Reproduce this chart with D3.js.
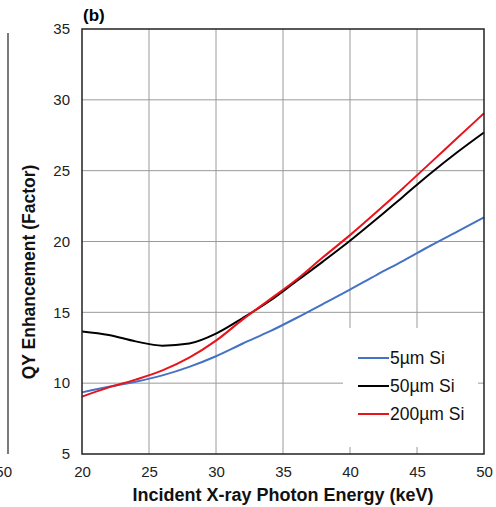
<!DOCTYPE html>
<html>
<head>
<meta charset="utf-8">
<script src="https://cdn.jsdelivr.net/npm/d3@7"></script>
<style>
  body { margin: 0; background: #fff; }
  text { font-family: 'Liberation Sans', Arial, sans-serif; }
</style>
</head>
<body>
<div class="chartContainer"></div>
<script>
var energy = [20, 22, 24, 26, 28, 30, 32, 34, 36, 38, 40, 42, 44, 46, 48, 50];
var si5 = [9.35, 9.75, 10.1, 10.55, 11.15, 11.9, 12.8, 13.65, 14.6, 15.6, 16.6, 17.65, 18.65, 19.7, 20.7, 21.7];
var si50 = [13.65, 13.4, 12.95, 12.65, 12.8, 13.5, 14.6, 15.8, 17.2, 18.6, 20.05, 21.6, 23.2, 24.8, 26.3, 27.7];
var si200 = [9.05, 9.7, 10.25, 10.9, 11.8, 13.0, 14.5, 15.9, 17.3, 18.9, 20.45, 22.1, 23.8, 25.55, 27.3, 29.05];
var seriesNames = ['5\u00b5m Si', '50\u00b5m Si', '200\u00b5m Si'];
var seriesColors = ['#4472c4', '#000000', '#e8131b'];
var xTicks = [20, 25, 30, 35, 40, 45, 50];
var yTicks = [5, 10, 15, 20, 25, 30, 35];

var W = 496;
var H = 507;
var plotL = 82, plotR = 484, plotT = 29, plotB = 454;

var svg = d3.select('.chartContainer').append('svg').attr('width', W).attr('height', H);

var xScale = d3.scaleLinear().domain([20, 50]).range([plotL, plotR]);
var yScale = d3.scaleLinear().domain([5, 35]).range([plotB, plotT]);

// remnant of panel (a) on the left edge
svg.append('line')
  .attr('x1', 8).attr('x2', 8).attr('y1', 33).attr('y2', plotB)
  .attr('stroke', '#222').attr('stroke-width', 1.2);
svg.append('text')
  .attr('x', 12).attr('y', 477)
  .attr('text-anchor', 'end')
  .style('font-size', '15px')
  .attr('fill', '#222')
  .text('50');

/* ===== GRID ===== */
var grid = svg.append('g');
grid.selectAll('line.vgrid')
  .data(xTicks.slice(1, -1))
  .enter()
  .append('line')
  .attr('class', 'vgrid')
  .attr('x1', function (d) { return xScale(d); })
  .attr('x2', function (d) { return xScale(d); })
  .attr('y1', plotT).attr('y2', plotB)
  .attr('stroke', '#9a9a9a').attr('stroke-width', 1);

grid.selectAll('line.hgrid')
  .data(yTicks.slice(1, -1))
  .enter()
  .append('line')
  .attr('class', 'hgrid')
  .attr('x1', plotL).attr('x2', plotR)
  .attr('y1', function (d) { return yScale(d); })
  .attr('y2', function (d) { return yScale(d); })
  .attr('stroke', '#9a9a9a').attr('stroke-width', 1);

/* ===== AXES ===== */
var xAxis = d3.axisBottom(xScale).tickValues(xTicks).tickSize(0).tickPadding(12);
var yAxis = d3.axisLeft(yScale).tickValues(yTicks).tickSize(0).tickPadding(12);

var gx = svg.append('g').attr('transform', 'translate(0,' + plotB + ')').call(xAxis);
var gy = svg.append('g').attr('transform', 'translate(' + plotL + ',0)').call(yAxis);
gx.select('.domain').remove();
gy.select('.domain').remove();
gx.attr('font-size', null).attr('font-family', null);
gy.attr('font-size', null).attr('font-family', null);
gx.selectAll('text').style('font-size', '15px').attr('fill', '#222').attr('dy', '0.75em');
gy.selectAll('text').style('font-size', '15px').attr('fill', '#222');

/* ===== LINES ===== */
var line = d3.line()
  .x(function (d) { return xScale(d[0]); })
  .y(function (d) { return yScale(d[1]); })
  .curve(d3.curveMonotoneX);

var allSeries = [si5, si50, si200];

svg.selectAll('path.series')
  .data(allSeries)
  .enter()
  .append('path')
  .attr('class', 'series')
  .attr('fill', 'none')
  .attr('stroke', function (d, i) { return seriesColors[i]; })
  .attr('stroke-width', 2)
  .attr('d', function (d) {
    return line(d.map(function (v, j) { return [energy[j], v]; }));
  });

/* ===== LEGEND ===== */
var legend = svg.append('g');
legend.append('rect')
  .attr('x', 343).attr('y', 328)
  .attr('width', 135).attr('height', 119)
  .attr('fill', '#fff');

var items = legend.selectAll('g.item')
  .data(seriesNames)
  .enter()
  .append('g')
  .attr('class', 'item')
  .attr('transform', function (d, i) { return 'translate(358,' + (358 + i * 28) + ')'; });

items.append('line')
  .attr('x1', 0).attr('x2', 31).attr('y1', 0).attr('y2', 0)
  .attr('stroke', function (d, i) { return seriesColors[i]; })
  .attr('stroke-width', 2);

items.append('text')
  .attr('x', 32).attr('y', 6)
  .style('font-size', '17.5px')
  .attr('fill', '#111')
  .text(function (d) { return d; });

/* ===== FRAME & LABELS ===== */
svg.append('rect')
  .attr('x', plotL).attr('y', plotT)
  .attr('width', plotR - plotL).attr('height', plotB - plotT)
  .attr('fill', 'none').attr('stroke', '#222').attr('stroke-width', 1.5);

svg.append('text')
  .attr('x', 83).attr('y', 21)
  .style('font-size', '17px').style('font-weight', 'bold')
  .text('(b)');

svg.append('text')
  .attr('transform', 'translate(35,272) rotate(-90)')
  .attr('text-anchor', 'middle')
  .style('font-size', '17.5px').style('font-weight', 'bold')
  .attr('fill', '#111')
  .text('QY Enhancement (Factor)');

svg.append('text')
  .attr('x', (plotL + plotR) / 2).attr('y', 501)
  .attr('text-anchor', 'middle')
  .style('font-size', '18px').style('font-weight', 'bold')
  .attr('fill', '#111')
  .text('Incident X-ray Photon Energy (keV)');
</script>
</body>
</html>
